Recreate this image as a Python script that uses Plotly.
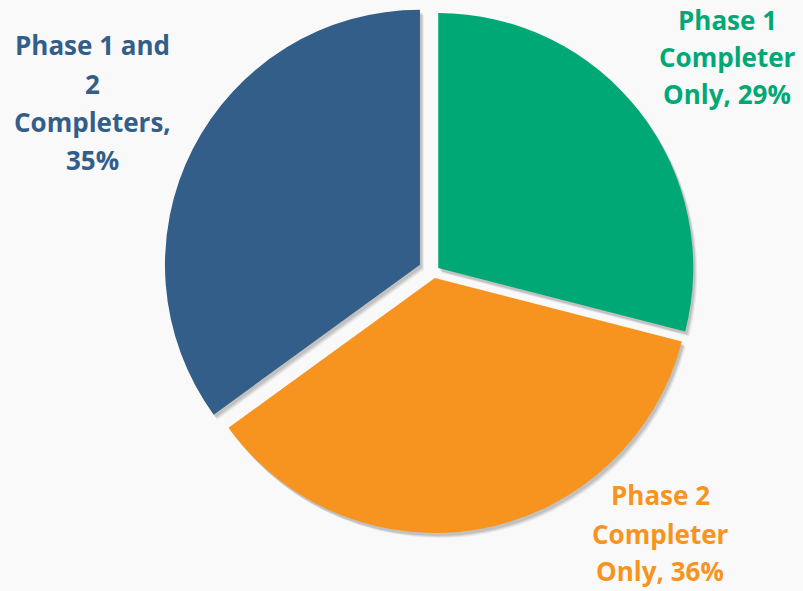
import plotly.graph_objects as go

# ---- data ----
labels = ["Phase 1 Completer Only", "Phase 2 Completer Only", "Phase 1 and 2 Completers"]
values = [29, 36, 35]
colors = ["#00A876", "#F7941F", "#335E8A"]
pulls = [0.023, 0.025, 0.06]
# words per display line for each label text
line_words = [[2, 1, 2], [2, 1, 2], [3, 1, 1, 1]]

W, H = 803, 591
BG = "#f9f9f9"

# pie geometry (pixels)
cx, cy, r = 433.6, 271.7, 255.0
box = 2 * r * (1 + max(pulls))
dom_x = [(cx - box / 2) / W, (cx + box / 2) / W]
dom_y = [1 - (cy + box / 2) / H, 1 - (cy - box / 2) / H]

fig = go.Figure()

# soft shadow layers
for dx, dy, a in [(4, 5, 0.06), (3, 4, 0.08), (2, 3, 0.10)]:
    fig.add_trace(go.Pie(
        labels=labels, values=values, sort=False, direction="clockwise", rotation=0,
        pull=pulls, textinfo="none", hoverinfo="skip", showlegend=False,
        marker=dict(colors=[f"rgba(0,0,0,{a})"] * 3, line=dict(width=0)),
        domain=dict(x=[dom_x[0] + dx / W, dom_x[1] + dx / W],
                    y=[dom_y[0] - dy / H, dom_y[1] - dy / H]),
    ))

fig.add_trace(go.Pie(
    labels=labels, values=values, sort=False, direction="clockwise", rotation=0,
    pull=pulls, textinfo="none", showlegend=False,
    marker=dict(colors=colors, line=dict(width=0)),
    domain=dict(x=dom_x, y=dom_y),
))

# label positions (pixels): center x, line center y's
label_pos = [
    (727, [20, 57, 94]),
    (660, [495, 534, 571]),
    (92, [45, 84, 122, 160]),
]

annotations = []
for lab, v, col, words_per, (lx, lys) in zip(labels, values, colors, line_words, label_pos):
    words = f"{lab}, {v}%".split(" ")
    lines, i = [], 0
    for n in words_per:
        lines.append(" ".join(words[i:i + n]))
        i += n
    for line, ly in zip(lines, lys):
        annotations.append(dict(
            text=f"<b>{line}</b>", x=lx / W, y=1 - ly / H, xref="paper", yref="paper",
            xanchor="center", yanchor="middle", showarrow=False,
            font=dict(family="Open Sans", size=26, color=col),
        ))

fig.update_layout(
    width=W, height=H, margin=dict(l=0, r=0, t=0, b=0),
    paper_bgcolor=BG, plot_bgcolor=BG, showlegend=False,
    annotations=annotations,
)

fig.write_html("out.html")
